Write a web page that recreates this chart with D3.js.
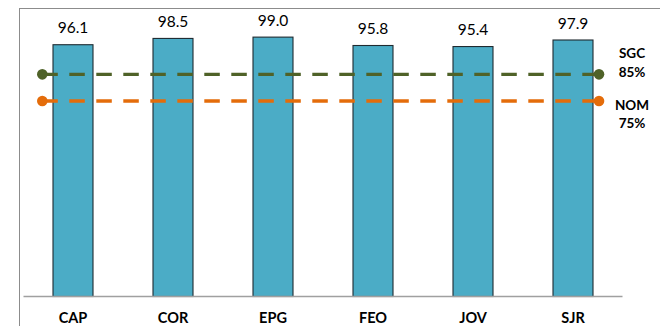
<!DOCTYPE html>
<html>
<head>
<meta charset="utf-8">
<script src="https://cdn.jsdelivr.net/npm/d3@7/dist/d3.min.js"></script>
<style>
  html, body { margin: 0; padding: 0; background: #fff; }
  svg { display: block; }
  text { font-family: Lato, "Liberation Sans", sans-serif; }
</style>
</head>
<body>
<svg id="chart" width="660" height="326"></svg>
<script>
// Site scores
const categories = ["CAP", "COR", "EPG", "FEO", "JOV", "SJR"];
const scores = [96.1, 98.5, 99.0, 95.8, 95.4, 97.9];

// Reference targets (drawn as dashed lines across the chart)
const targetNames = ["SGC", "NOM"];
const targetValues = [85, 75];
const targetLabels = ["85%", "75%"];
const targetColors = ["#4f6228", "#e46c0a"];

const svg = d3.select("#chart");
const W = 660, H = 326;

// Outer frame
svg.append("rect")
  .attr("x", 19.5).attr("y", 8.5)
  .attr("width", W + 10).attr("height", H + 10)
  .attr("fill", "none").attr("stroke", "#8c8c8c").attr("stroke-width", 1);

const x = d3.scaleBand()
  .domain(categories)
  .range([23, 623])
  .paddingInner(0.6)
  .paddingOuter(0.3);

// Primary axis for the bars
const y = d3.scaleLinear().domain([0, 100]).range([296.5, 34.5]);
// Secondary axis for the target lines
const y2 = d3.scaleLinear().domain([0, 100]).range([301.3, 34.3]);

// Bars
svg.append("g").selectAll("rect")
  .data(categories)
  .join("rect")
  .attr("x", d => x(d))
  .attr("y", (d, i) => y(scores[i]))
  .attr("width", x.bandwidth())
  .attr("height", (d, i) => y(0) - y(scores[i]))
  .attr("fill", "#4bacc6")
  .attr("stroke", "#1f2a30")
  .attr("stroke-width", 1.1);

// Value labels
svg.append("g").selectAll("text")
  .data(categories)
  .join("text")
  .attr("x", d => x(d) + x.bandwidth() / 2)
  .attr("y", (d, i) => y(scores[i]) - 11.5)
  .attr("text-anchor", "middle")
  .attr("font-size", 15.5)
  .attr("fill", "#000")
  .text((d, i) => scores[i].toFixed(1));

// Category axis
const xAxis = svg.append("g")
  .attr("transform", `translate(0,${y(0)})`)
  .call(d3.axisBottom(x).tickSize(0).tickPadding(0));
xAxis.select(".domain")
  .attr("d", "M23.5,0H622.5")
  .attr("stroke", "#a0a0a0").attr("stroke-width", 1.5);
xAxis.selectAll(".tick text")
  .attr("y", 26.5)
  .attr("dy", null)
  .attr("font-family", "Lato, 'Liberation Sans', sans-serif")
  .attr("font-size", 14.5)
  .attr("font-weight", "bold")
  .attr("fill", "#000");

// Target lines with end markers; label block sits beside the right marker
const lineX0 = 42.3, lineX1 = 599;
const labelOffsets = [[-16, 3], [9, 27]];
const tg = svg.append("g");
targetValues.forEach((v, i) => {
  const yy = y2(v);
  tg.append("line")
    .attr("x1", lineX0).attr("x2", lineX1)
    .attr("y1", yy).attr("y2", yy)
    .attr("stroke", targetColors[i])
    .attr("stroke-width", 3.4)
    .attr("stroke-dasharray", "15.5,11.5");
  [lineX0, lineX1].forEach(cx => {
    tg.append("circle")
      .attr("cx", cx).attr("cy", yy).attr("r", 5.3)
      .attr("fill", targetColors[i]);
  });
  tg.append("text")
    .attr("x", 632).attr("y", yy + labelOffsets[i][0])
    .attr("text-anchor", "middle")
    .attr("font-size", 13.5)
    .attr("font-weight", "bold")
    .text(targetNames[i]);
  tg.append("text")
    .attr("x", 632).attr("y", yy + labelOffsets[i][1])
    .attr("text-anchor", "middle")
    .attr("font-size", 13.5)
    .attr("font-weight", "bold")
    .text(targetLabels[i]);
});
</script>
</body>
</html>
